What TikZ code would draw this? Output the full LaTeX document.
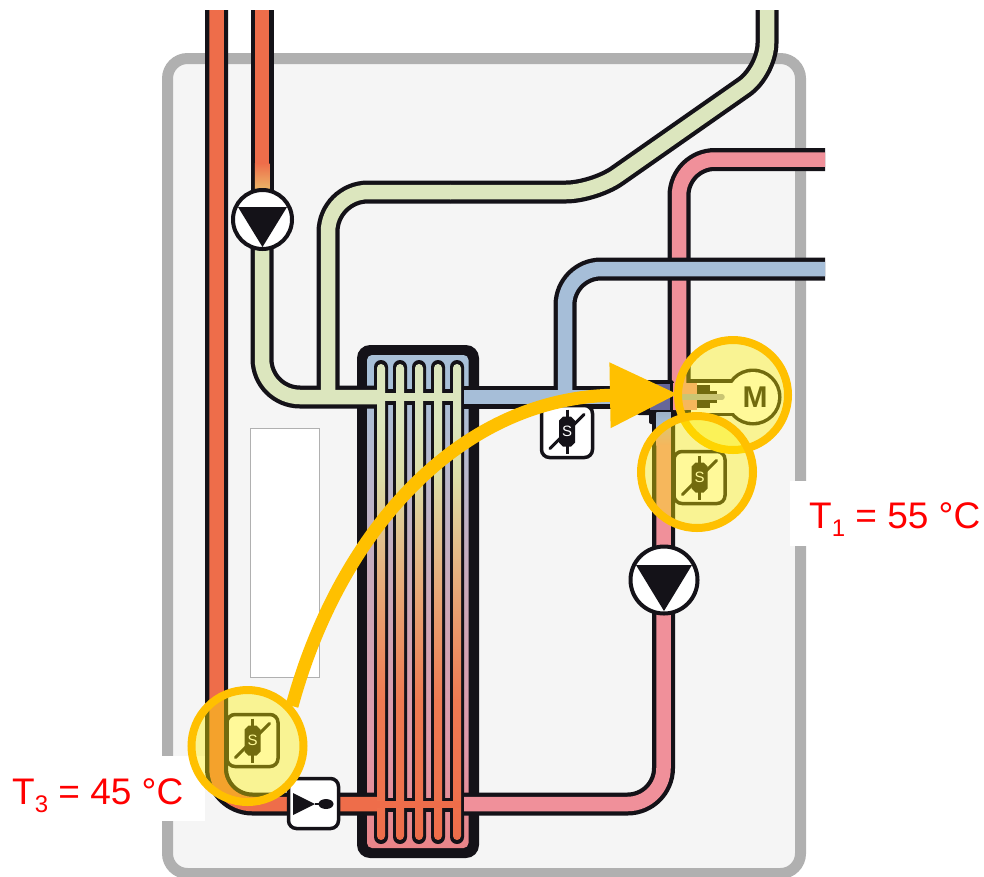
\documentclass[tikz,border=0pt]{standalone}
\usepackage{fontspec}
\setmainfont{Liberation Sans}
\usetikzlibrary{arrows.meta}
\definecolor{pipeRed}{HTML}{EE6D4A}
\definecolor{pipeGreen}{HTML}{DCE6BE}
\definecolor{pipePink}{HTML}{F0909A}
\definecolor{pipeBlue}{HTML}{A6BED8}
\definecolor{panelGray}{HTML}{B0B0B0}
\definecolor{panelFill}{HTML}{F5F5F5}
\definecolor{ink}{HTML}{141218}
\definecolor{amber}{HTML}{FFC000}
\definecolor{rod}{HTML}{A8A8C0}
\definecolor{fa}{HTML}{DCE6BE}
\definecolor{fb}{HTML}{DCDCA6}
\definecolor{fc}{HTML}{E8A474}
\definecolor{fd}{HTML}{EE7A52}
\definecolor{ca}{HTML}{A8C0D8}
\definecolor{cb}{HTML}{B8B8CC}
\definecolor{cc}{HTML}{CCA8B8}
\definecolor{cd}{HTML}{E098A8}
\definecolor{ce}{HTML}{EA8488}
\pgfdeclareverticalshading{fingerShade}{100bp}{color(0bp)=(pipeRed); color(25bp)=(pipeRed); color(39.7bp)=(fd); color(50.2bp)=(fc); color(62.8bp)=(fb); color(69.1bp)=(fa); color(75bp)=(fa); color(100bp)=(fa)}
\pgfdeclareverticalshading{channelShade}{100bp}{color(0bp)=(ce); color(25bp)=(ce); color(35bp)=(cd); color(50.2bp)=(cc); color(63.3bp)=(cb); color(72bp)=(ca); color(75bp)=(ca); color(100bp)=(ca)}
\tikzset{
  pipeOut/.style={draw=ink,line width=23pt},
  pipeIn/.style={draw=#1,line width=14.5pt},
  mark box/.style={draw=ink,fill=white,line width=3.5pt,rounded corners=8pt},
  pump ring/.style={draw=ink,fill=white,line width=4pt},
  halo/.style={draw=amber,line width=8pt,fill=yellow,fill opacity=0.4},
  temp/.style={text=red,font=\fontsize{37}{37}\selectfont,anchor=base west,inner sep=0pt},
  svalve/.pic={
    \draw[mark box] (-25.5,-26) rectangle (25.5,26);
    \draw[ink,line width=3pt] (0,-22) -- (0,22);
    \fill[ink] (-8,-11) -- (-4,-15) -- (4,-15) -- (8,-11) -- (8,11) -- (4,15) -- (-4,15) -- (-8,11) -- cycle;
    \draw[ink,line width=3pt,line cap=round] (-17,17) -- (17,-17);
    \node[text=white,inner sep=0pt,font=\fontsize{15}{15}\selectfont] at (0,0) {S};
  }
}
\begin{document}
\begin{tikzpicture}[x=1pt,y=-1pt]
\useasboundingbox (0,0) rectangle (984,876);
% panel
\draw[line width=11pt,draw=panelGray,fill=panelFill,rounded corners=20pt] (167.5,58.5) rectangle (800.5,873.5);
\draw[draw=panelGray,fill=white,line width=1pt] (250,428) rectangle (319,677);
% label backings
\fill[white] (790,481) rectangle (984,546);
\fill[white] (0,756) rectangle (205,821);
% heat exchanger
\fill[ink,rounded corners=13pt] (357,345) rectangle (479,858);
\shade[shading=channelShade,rounded corners=5pt] (367,355) rectangle (468.5,848);
\foreach \fx in {381,400,419,438,457}{
  \fill[ink,rounded corners=7pt] (\fx-7,360) rectangle (\fx+7,844);
}
\fill[ink] (374,389) rectangle (464,405);
\fill[ink] (374,797.5) rectangle (464,811.5);
% far left pipes
\draw[pipeOut,rounded corners=36pt] (216.5,10) -- (216.5,804) -- (376,804);
\draw[pipeIn=pipeRed,rounded corners=36pt] (216.5,10) -- (216.5,804) -- (378,804);
% pipe from top to pump
\draw[pipeOut] (262,10) -- (262,195);
\draw[pipeIn=pipeRed] (262,10) -- (262,165);
\shade[top color=pipeRed,bottom color=orange!45!pipeGreen] (254.75,163) rectangle (269.25,190);
% green circuit
\draw[pipeOut,rounded corners=38pt] (262,245) -- (262,397) -- (376,397);
\draw[pipeOut,rounded corners=40pt] (328,397) -- (328,192) -- (450,192);
\draw[pipeOut,rounded corners=28pt] (450,192) -- (594,192) -- (767,71) -- (767,10);
\draw[pipeIn=pipeGreen,rounded corners=38pt] (262,245) -- (262,397) -- (378,397);
\draw[pipeIn=pipeGreen,rounded corners=40pt] (328,397) -- (328,192) -- (450.5,192);
\draw[pipeIn=pipeGreen,rounded corners=28pt] (450,192) -- (594,192) -- (767,71) -- (767,10);
% pink upper
\draw[draw=ink,line width=23pt,rounded corners=36pt] (825,159.5) -- (679,159.5) -- (679,414);
\draw[pipeIn=pipePink,rounded corners=36pt] (825,159.5) -- (679,159.5) -- (679,410);
% pink lower
\draw[pipeOut,rounded corners=36pt] (663.5,412) -- (663.5,804) -- (464,804);
\draw[pipeIn=pipePink,rounded corners=36pt] (663.5,440) -- (663.5,804) -- (464,804);
\shade[top color=pipeBlue,bottom color=pipePink] (656.25,408) rectangle (670.75,445);
% blue circuit
\draw[pipeOut] (464,397) -- (660,397);
\draw[pipeOut,rounded corners=36pt] (825,269) -- (565,269) -- (565,397);
\draw[pipeIn=pipeBlue,rounded corners=36pt] (825,269) -- (565,269) -- (565,397);
\draw[pipeIn=pipeBlue] (464,397) -- (660,397);
% mixing valve body
\fill[ink,rounded corners=3pt] (636,380) rectangle (674,415);
\fill[pipeBlue] (630,390) rectangle (652,404);
\fill[gray!80!blue] (650,384) rectangle (670,410);
\fill[ink,rounded corners=2pt] (649,412) rectangle (678,424);
\shade[top color=pipeBlue!80!gray,bottom color=pipeBlue] (656.25,412) rectangle (670.75,426);
% heat exchanger fingers
\foreach \fx in {381,400,419,438,457}{
  \shade[shading=fingerShade,rounded corners=4pt] (\fx-4,364) rectangle (\fx+4,840);
}
\fill[pipeGreen] (376,393) rectangle (461,401);
\fill[pipeRed] (376,801) rectangle (461,808);
% motor
\fill[ink] (689,379) rectangle (735,416);
\fill[ink] (753,397) circle[radius=28.5];
\fill[white] (691,382.5) rectangle (738,412.5);
\fill[white] (753,397) circle[radius=25];
\fill[pipePink] (672.5,382.5) rectangle (697,410);
\fill[ink] (697,385) rectangle (710,408);
\fill[ink] (710,391) rectangle (717,403);
\draw[draw=rod,line width=5.5pt,line cap=round] (683,397) -- (722,397);
\node[font=\bfseries\fontsize{30}{30}\selectfont,text=ink,inner sep=0pt] (motorM) at (755,397) {M};
% pumps
\draw[pump ring] (262.5,219.5) circle[radius=29.5];
\fill[ink] (238,207) -- (287,207) -- (262.5,247) -- cycle;
\draw[pump ring] (664,580) circle[radius=33.5];
\fill[ink] (636,565) -- (692,565) -- (664,611) -- cycle;
% check valve
\draw[mark box] (288.5,778.5) rectangle (338.5,828.5);
\fill[ink] (293,793) -- (315,804) -- (293,815) -- cycle;
\draw[ink,line width=1.5pt] (315,804) -- (320,804);
\fill[ink] (326,804) ellipse[x radius=7.5,y radius=5];
% sensors
\pic at (567,431.5) {svalve};
\pic at (252.5,740.5) {svalve};
\pic at (699.5,477.5) {svalve};
% highlight circles
\draw[halo] (733,395) circle[radius=55];
\draw[halo] (697,472) circle[radius=56];
\draw[halo] (247.5,746) circle[radius=56];
% arrow
\coordinate (arrowStart) at (292,706);
\coordinate (arrowEnd) at (678,394);
\draw[amber,line width=13pt,-{Triangle[length=68pt,width=62pt]}] (arrowStart) .. controls (340,530) and (460,398) .. (arrowEnd);
% labels
\node[temp] (tOne) at (809,528) {T\raisebox{-8pt}{\fontsize{24}{24}\selectfont 1} = 55 °C};
\node[temp] (tThree) at (12,804) {T\raisebox{-8pt}{\fontsize{24}{24}\selectfont 3} = 45 °C};
\end{tikzpicture}
\end{document}
